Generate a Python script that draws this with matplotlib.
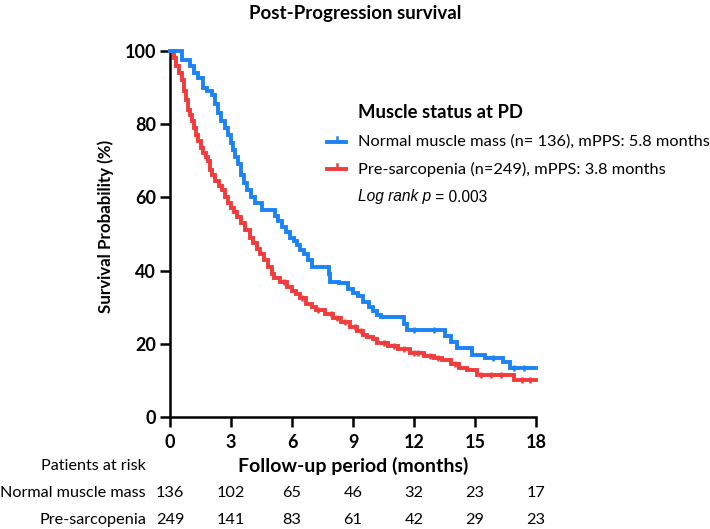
import numpy as np
import matplotlib
matplotlib.use("Agg")
import matplotlib.pyplot as plt
from matplotlib.lines import Line2D

plt.rcParams['font.family'] = ['Lato', 'DejaVu Sans']

# ---- data ----
title = "Post-Progression survival"
group_names = ["Normal muscle mass", "Pre-sarcopenia"]
legend_labels = ["Normal muscle mass (n= 136), mPPS: 5.8 months",
                 "Pre-sarcopenia (n=249), mPPS: 3.8 months"]
legend_title = "Muscle status at PD"

normal_t = [0, 0.6, 1.0, 1.2, 1.4, 1.6, 1.8, 2.05, 2.2, 2.35, 2.5, 2.7, 2.85, 3.0, 3.1, 3.2,
            3.35, 3.5, 3.65, 3.8, 4.0, 4.2, 4.5, 5.15, 5.3, 5.5, 5.7, 5.9, 6.1, 6.25, 6.4,
            6.6, 6.8, 7.0, 7.8, 7.85, 8.3, 8.75, 9.0, 9.25, 9.5, 9.8, 10.0, 10.2, 10.4,
            11.5, 11.65, 13.5, 13.8, 14.1, 14.85, 15.5, 16.4, 16.7]
normal_s = [100, 97.5, 96, 94, 92.5, 90, 89, 88, 85.5, 83, 81, 79, 77, 75, 73, 71,
            69, 66, 64, 62, 60, 58.5, 56.6, 55, 53.5, 52, 50.5, 49, 48, 47, 45.6,
            44.5, 43, 41, 39, 37, 36.5, 35, 34, 33, 31.5, 30, 29, 28, 27.3,
            25.5, 23.8, 22, 20.5, 18.9, 17, 16.1, 15, 13.5]
normal_cens = [12.0, 13.0, 15.9, 16.9, 17.4]

pre_t = [0, 0.2, 0.3, 0.45, 0.6, 0.7, 0.8, 0.9, 1.0, 1.1, 1.2, 1.3, 1.4, 1.5, 1.6, 1.75,
         1.85, 1.95, 2.05, 2.2, 2.4, 2.55, 2.7, 2.85, 3.0, 3.15, 3.3, 3.5, 3.7, 3.95, 4.1,
         4.3, 4.45, 4.6, 4.8, 5.0, 5.1, 5.4, 5.75, 6.0, 6.2, 6.4, 6.7, 7.0, 7.2, 7.6, 8.0,
         8.4, 8.85, 9.2, 9.5, 9.7, 10.0, 10.2, 10.7, 11.2, 11.8, 12.5, 13.0, 13.4, 13.8,
         14.2, 14.6, 15.1, 16.9]
pre_s = [100, 98, 96, 94, 92, 89, 86.5, 84, 82.5, 81, 79, 77, 75.5, 73.5, 72, 71,
         70, 67.5, 66, 64.5, 63, 62, 60, 58.5, 57, 56, 54.6, 53, 51, 49, 47.5,
         46, 44.5, 43, 41, 39, 38, 37, 35.5, 34.5, 33.5, 32.5, 31, 30, 29.2, 28.2, 27,
         26, 24.6, 23.5, 22.5, 21.9, 21.2, 20.2, 19.5, 18.5, 17.5, 16.8, 16, 15.6, 14.5,
         13.5, 12.8, 11.5, 10.1]
pre_cens = [5.6, 6.5, 7.3, 7.9, 8.2, 8.6, 9.1, 9.4, 10.5, 11.0, 11.5, 12.0, 12.2, 12.8,
            13.2, 14.0, 15.3, 15.8, 16.3, 17.3, 17.7]

risk_times = [0, 3, 6, 9, 12, 15, 18]
risk_normal = [136, 102, 65, 46, 32, 23, 17]
risk_pre = [249, 141, 83, 61, 42, 29, 23]
x_max = 18

BLUE = '#1c83f7'
RED = '#f23c3c'

fig = plt.figure(figsize=(7.10, 5.29), dpi=100)
ax = fig.add_axes([170/710, 1-417/529, 366/710, 366/529])


def draw_curve(t, s, cens, color):
    tt = list(t) + [x_max]
    ss = list(s) + [s[-1]]
    ax.step(tt, ss, where='post', color=color, lw=2.8, clip_on=False,
            solid_joinstyle='miter', zorder=3)
    ct = np.array(cens)
    idx = np.searchsorted(np.array(t), ct, side='right') - 1
    cs = np.array(s)[idx]
    ax.plot(ct, cs, linestyle='none', marker='|', markersize=5, markeredgewidth=1.8,
            color=color, clip_on=False, zorder=3)


draw_curve(pre_t, pre_s, pre_cens, RED)
draw_curve(normal_t, normal_s, normal_cens, BLUE)

ax.set_xlim(0, x_max)
ax.set_ylim(0, 100)
ax.set_xticks(risk_times)
ax.set_yticks([0, 20, 40, 60, 80, 100])
for sp in ['top', 'right']:
    ax.spines[sp].set_visible(False)
for sp in ['left', 'bottom']:
    ax.spines[sp].set_linewidth(1.8)
ax.tick_params(width=1.8, length=7, labelsize=13)
ax.tick_params(axis='x', pad=5)
ax.tick_params(axis='y', pad=3)
for lab in ax.get_xticklabels() + ax.get_yticklabels():
    lab.set_fontweight('bold')

fig.text(106/710, 1-226/529, "Survival Probability (%)", rotation=90, ha='center', va='center',
         fontsize=12.2, fontweight='bold')
fig.text(355/710, 1-14/529, title, ha='center', va='center', fontsize=13.5, fontweight='bold')
fig.text(353/710, 1-466/529, "Follow-up period (months)", ha='center', va='center',
         fontsize=14, fontweight='bold')
fig.text(146/710, 1-466/529, "Patients at risk", ha='right', va='center', fontsize=11.6)
for row_y, name, vals in [(493, group_names[0], risk_normal), (520, group_names[1], risk_pre)]:
    fig.text(146/710, 1-row_y/529, name, ha='right', va='center', fontsize=11.7)
    for tv, v in zip(risk_times, vals):
        xpix = ax.transData.transform((tv, 0))[0]
        fig.text(xpix/fig.bbox.width, 1-row_y/529, str(v), ha='center', va='center', fontsize=11.7)

# legend
fig.text(358/710, 1-113/529, legend_title, ha='left', va='center', fontsize=13.3, fontweight='bold')
for ypix, lab, col in [(142, legend_labels[0], BLUE), (169, legend_labels[1], RED)]:
    yf = 1 - ypix/529
    fig.add_artist(Line2D([327/710, 346/710], [yf, yf], color=col, lw=2.8))
    fig.add_artist(Line2D([336.5/710, 336.5/710], [yf, yf + 5/529], color=col, lw=1.8))
    fig.text(358/710, yf, lab, ha='left', va='center', fontsize=11.8)
t1 = fig.text(358/710, 1-197/529, "Log rank p", ha='left', va='center', fontsize=11.2,
              family=['Liberation Sans'], style='italic')
fig.canvas.draw()
bb = t1.get_window_extent()
fig.text(bb.x1/fig.bbox.width, 1-197/529, " = 0.003", ha='left', va='center', fontsize=11.2,
         family=['Liberation Sans'])

fig.savefig("out.png", dpi=100)
